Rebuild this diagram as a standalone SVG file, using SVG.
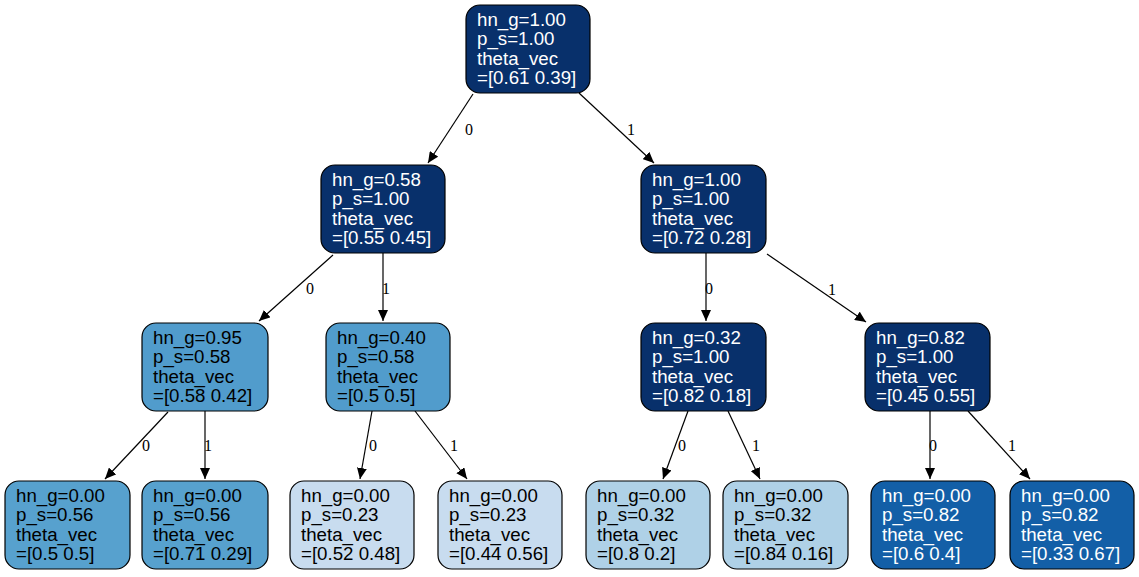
<svg xmlns="http://www.w3.org/2000/svg" width="1139" height="577" viewBox="0 0 1139 577">
<style>
.n rect{stroke:#000;stroke-width:1.2}
.n text{font-family:"Liberation Sans",Arial,sans-serif;font-size:18.7px}
.w text{fill:#fff}
.b text{fill:#000}
.e line{stroke:#000;stroke-width:1.2;marker-end:url(#ah)}
.e text{font-family:"Liberation Serif","Times New Roman",serif;font-size:16px;fill:#000;text-anchor:middle}
</style>
<defs>
<marker id="ah" markerUnits="userSpaceOnUse" markerWidth="12" markerHeight="10" refX="11" refY="5" orient="auto">
<path d="M0,0 L11,5 L0,10 Z" fill="#000"/>
</marker>
</defs>
<rect width="1139" height="577" fill="#fff"/>
<g class="e" id="edges">
<line x1="473" y1="94" x2="428" y2="163"/><text x="469" y="135">0</text>
<line x1="579" y1="93" x2="654" y2="163"/><text x="631" y="135">1</text>
<line x1="333" y1="255" x2="259" y2="321"/><text x="310" y="294">0</text>
<line x1="383" y1="253" x2="383" y2="321"/><text x="386" y="294">1</text>
<line x1="706" y1="253" x2="706" y2="321"/><text x="709" y="294">0</text>
<line x1="767" y1="254" x2="866" y2="322"/><text x="832" y="295">1</text>
<line x1="168" y1="412" x2="105" y2="479"/><text x="146" y="451">0</text>
<line x1="205" y1="411" x2="205" y2="479"/><text x="208" y="451">1</text>
<line x1="372" y1="411" x2="360" y2="479"/><text x="373" y="451">0</text>
<line x1="415" y1="411" x2="467" y2="479"/><text x="454" y="451">1</text>
<line x1="688" y1="411" x2="663" y2="479"/><text x="682" y="451">0</text>
<line x1="728" y1="411" x2="760" y2="479"/><text x="756" y="451">1</text>
<line x1="930" y1="411" x2="930" y2="479"/><text x="933" y="451">0</text>
<line x1="968" y1="411" x2="1030" y2="479"/><text x="1012" y="451">1</text>
</g>
<g class="n w" id="n0"><rect x="466" y="5" width="124" height="88" rx="14" fill="#08306b"/>
<text x="477" y="25.5">hn_g=1.00</text><text x="477" y="45">p_s=1.00</text><text x="477" y="64.5">theta_vec</text><text x="477" y="84">=[0.61 0.39]</text></g>
<g class="n w" id="n1"><rect x="321" y="165" width="124" height="88" rx="14" fill="#08306b"/>
<text x="332" y="185.5">hn_g=0.58</text><text x="332" y="205">p_s=1.00</text><text x="332" y="224.5">theta_vec</text><text x="332" y="244">=[0.55 0.45]</text></g>
<g class="n w" id="n2"><rect x="641" y="165" width="125" height="88" rx="14" fill="#08306b"/>
<text x="652" y="185.5">hn_g=1.00</text><text x="652" y="205">p_s=1.00</text><text x="652" y="224.5">theta_vec</text><text x="652" y="244">=[0.72 0.28]</text></g>
<g class="n b" id="n3"><rect x="142" y="323" width="126" height="88" rx="14" fill="#519ccc"/>
<text x="153" y="343.5">hn_g=0.95</text><text x="153" y="363">p_s=0.58</text><text x="153" y="382.5">theta_vec</text><text x="153" y="402">=[0.58 0.42]</text></g>
<g class="n b" id="n4"><rect x="326" y="323" width="124" height="88" rx="14" fill="#519ccc"/>
<text x="337" y="343.5">hn_g=0.40</text><text x="337" y="363">p_s=0.58</text><text x="337" y="382.5">theta_vec</text><text x="337" y="402">=[0.5 0.5]</text></g>
<g class="n w" id="n5"><rect x="641" y="323" width="125" height="88" rx="14" fill="#08306b"/>
<text x="652" y="343.5">hn_g=0.32</text><text x="652" y="363">p_s=1.00</text><text x="652" y="382.5">theta_vec</text><text x="652" y="402">=[0.82 0.18]</text></g>
<g class="n w" id="n6"><rect x="865" y="323" width="125" height="88" rx="14" fill="#08306b"/>
<text x="876" y="343.5">hn_g=0.82</text><text x="876" y="363">p_s=1.00</text><text x="876" y="382.5">theta_vec</text><text x="876" y="402">=[0.45 0.55]</text></g>
<g class="n b" id="n7"><rect x="5" y="481" width="125" height="88" rx="14" fill="#57a1ce"/>
<text x="16" y="501.5">hn_g=0.00</text><text x="16" y="521">p_s=0.56</text><text x="16" y="540.5">theta_vec</text><text x="16" y="560">=[0.5 0.5]</text></g>
<g class="n b" id="n8"><rect x="142" y="481" width="126" height="88" rx="14" fill="#57a1ce"/>
<text x="153" y="501.5">hn_g=0.00</text><text x="153" y="521">p_s=0.56</text><text x="153" y="540.5">theta_vec</text><text x="153" y="560">=[0.71 0.29]</text></g>
<g class="n b" id="n9"><rect x="290" y="481" width="124" height="88" rx="14" fill="#c8dcef"/>
<text x="301" y="501.5">hn_g=0.00</text><text x="301" y="521">p_s=0.23</text><text x="301" y="540.5">theta_vec</text><text x="301" y="560">=[0.52 0.48]</text></g>
<g class="n b" id="n10"><rect x="438" y="481" width="124" height="88" rx="14" fill="#c8dcef"/>
<text x="449" y="501.5">hn_g=0.00</text><text x="449" y="521">p_s=0.23</text><text x="449" y="540.5">theta_vec</text><text x="449" y="560">=[0.44 0.56]</text></g>
<g class="n b" id="n11"><rect x="586" y="481" width="124" height="88" rx="14" fill="#afd1e7"/>
<text x="597" y="501.5">hn_g=0.00</text><text x="597" y="521">p_s=0.32</text><text x="597" y="540.5">theta_vec</text><text x="597" y="560">=[0.8 0.2]</text></g>
<g class="n b" id="n12"><rect x="723" y="481" width="125" height="88" rx="14" fill="#afd1e7"/>
<text x="734" y="501.5">hn_g=0.00</text><text x="734" y="521">p_s=0.32</text><text x="734" y="540.5">theta_vec</text><text x="734" y="560">=[0.84 0.16]</text></g>
<g class="n w" id="n13"><rect x="871" y="481" width="124" height="88" rx="14" fill="#135fa7"/>
<text x="882" y="501.5">hn_g=0.00</text><text x="882" y="521">p_s=0.82</text><text x="882" y="540.5">theta_vec</text><text x="882" y="560">=[0.6 0.4]</text></g>
<g class="n w" id="n14"><rect x="1010" y="481" width="124" height="88" rx="14" fill="#135fa7"/>
<text x="1021" y="501.5">hn_g=0.00</text><text x="1021" y="521">p_s=0.82</text><text x="1021" y="540.5">theta_vec</text><text x="1021" y="560">=[0.33 0.67]</text></g>
</svg>
